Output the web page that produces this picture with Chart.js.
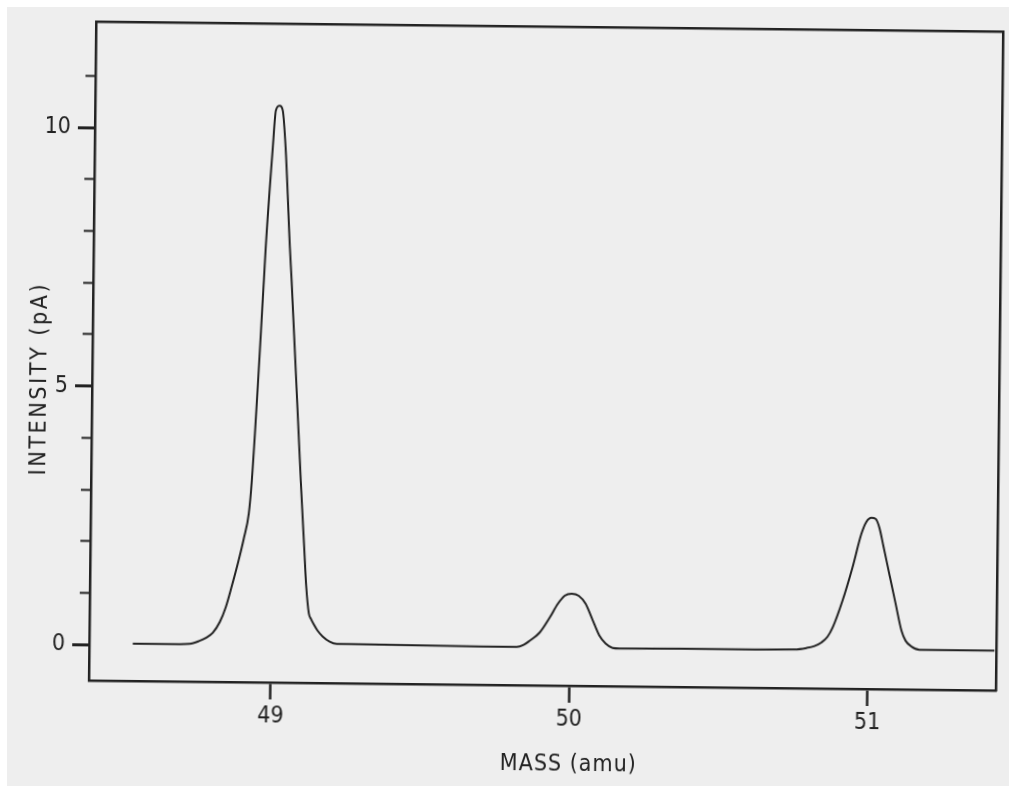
<!DOCTYPE html>
<html>
<head>
<meta charset="utf-8">
<title>MASS (amu)</title>
<script src="https://cdn.jsdelivr.net/npm/chart.js@4.4.1/dist/chart.umd.min.js"></script>
<style>
  html, body { margin: 0; padding: 0; background: #fff; }
  body { width: 1009px; height: 787px; position: relative; overflow: hidden; }
  .paper { position: absolute; left: 7px; top: 7px; right: 0; bottom: 1px; background: #eeeeee; }
  #espectro { position: absolute; left: 0; top: 0; transform: rotate(0.63deg); transform-origin: 50% 50%; }
</style>
</head>
<body>
<div class="paper"></div>
<canvas id="espectro" width="1009" height="787"></canvas>
<script>
// mass scan, amu
const mass = [
  48.536, 48.650, 48.727, 48.760, 48.781, 48.804, 48.827, 48.846, 48.866, 48.885,
  48.904, 48.920, 48.929, 48.962, 48.967, 48.987, 48.996, 49.009, 49.019, 49.030,
  49.048, 49.055, 49.093, 49.107, 49.115, 49.125, 49.132, 49.142, 49.155, 49.172,
  49.196, 49.220, 49.263, 49.699, 49.823, 49.846, 49.866, 49.899, 49.932, 49.959,
  49.982, 50.005, 50.029, 50.052, 50.076, 50.100, 50.121, 50.144, 50.168, 50.369,
  50.436, 50.754, 50.794, 50.821, 50.844, 50.864, 50.881, 50.913, 50.945, 50.974,
  50.990, 51.007, 51.021, 51.034, 51.048, 51.070, 51.091, 51.112, 51.126, 51.146,
  51.173, 51.424
];
// ion current, pA
const intensity = [
  0.03, 0.03, 0.04, 0.10, 0.16, 0.26, 0.47, 0.75, 1.17, 1.60,
  2.08, 2.57, 3.21, 7.08, 7.72, 9.65, 10.37, 10.46, 10.37, 9.65,
  7.72, 7.08, 3.22, 1.92, 1.19, 0.65, 0.55, 0.44, 0.32, 0.21,
  0.11, 0.07, 0.07, 0.05, 0.05, 0.09, 0.17, 0.33, 0.62, 0.89,
  1.05, 1.09, 1.05, 0.90, 0.59, 0.28, 0.13, 0.05, 0.04, 0.05,
  0.05, 0.06, 0.09, 0.13, 0.20, 0.31, 0.49, 1.01, 1.65, 2.31,
  2.54, 2.62, 2.60, 2.43, 2.08, 1.51, 0.97, 0.44, 0.25, 0.14,
  0.08, 0.08
];
const massTicks = [49, 50, 51];
const intensityTicks = [0, 1, 2, 3, 4, 5, 6, 7, 8, 9, 10, 11];
const intensityLabels = [0, 5, 10];

const ink = '#222222';
const plotFont = "'DejaVu Sans Condensed', 'DejaVu Sans', sans-serif";

document.addEventListener("DOMContentLoaded", () => {

  //TITULOS DE EJES (espaciado de letras a mano)
  const axisTitles = {
    id: 'axisTitles',
    afterDraw(chart) {
      const { ctx, chartArea, scales } = chart;
      ctx.save();
      ctx.fillStyle = ink;
      ctx.font = '23px ' + plotFont;
      ctx.textAlign = 'center';
      ctx.textBaseline = 'middle';
      ctx.letterSpacing = '1px';
      ctx.fillText('MASS (amu)', scales.x.getPixelForValue(50), chartArea.bottom + 79);
      ctx.translate(chartArea.left - 52, scales.y.getPixelForValue(5) - 7);
      ctx.rotate(-Math.PI / 2);
      ctx.letterSpacing = '2.6px';
      ctx.fillText('INTENSITY (pA)', 0, 0);
      ctx.restore();
    }
  };

  const isMajor = v => intensityLabels.includes(v);

  //ESPECTRO
  const ctx = document.getElementById('espectro');
  new Chart(ctx, {
    type: 'line',
    data: {
      datasets: [{
        data: mass.map((m, i) => ({ x: m, y: intensity[i] })),
        borderColor: ink,
        borderWidth: 2,
        pointRadius: 0,
        fill: false,
        cubicInterpolationMode: 'monotone'
      }]
    },
    options: {
      responsive: false,
      animation: false,
      events: [],
      layout: { padding: 0 },
      plugins: {
        legend: { display: false },
        tooltip: { enabled: false }
      },
      scales: {
        x: {
          type: 'linear',
          position: 'bottom',
          min: 48.39,
          max: 51.43,
          afterFit: s => { s.height = 102; },
          afterBuildTicks: s => { s.ticks = massTicks.map(v => ({ value: v })); },
          grid: { drawOnChartArea: false, tickLength: 17, tickColor: ink, tickWidth: 2.5 },
          border: { color: ink, width: 2.5 },
          ticks: {
            padding: 3,
            maxRotation: 0,
            color: ink,
            font: { family: plotFont, size: 23 },
            callback: v => String(v)
          }
        },
        y: {
          type: 'linear',
          position: 'left',
          min: -0.69,
          max: 12.05,
          afterFit: s => { s.width = 92; },
          afterBuildTicks: s => { s.ticks = intensityTicks.map(v => ({ value: v })); },
          grid: {
            drawOnChartArea: false,
            tickLength: 17,
            tickColor: ink,
            tickWidth: c => isMajor(c.tick.value) ? 3 : 2,
            tickBorderDash: c => isMajor(c.tick.value) ? [] : [0, 7, 40, 0]
          },
          border: { color: ink, width: 2.5 },
          ticks: {
            padding: 7,
            color: ink,
            font: { family: plotFont, size: 23 },
            callback: v => isMajor(v) ? String(v) : ''
          }
        },
        top: {
          type: 'linear',
          position: 'top',
          afterFit: s => { s.height = 26; },
          grid: { display: false },
          border: { color: ink, width: 2.5 },
          ticks: { display: false }
        },
        right: {
          type: 'linear',
          position: 'right',
          afterFit: s => { s.width = 10; },
          grid: { display: false },
          border: { color: ink, width: 2.5 },
          ticks: { display: false }
        }
      }
    },
    plugins: [axisTitles]
  });
});
</script>
</body>
</html>
